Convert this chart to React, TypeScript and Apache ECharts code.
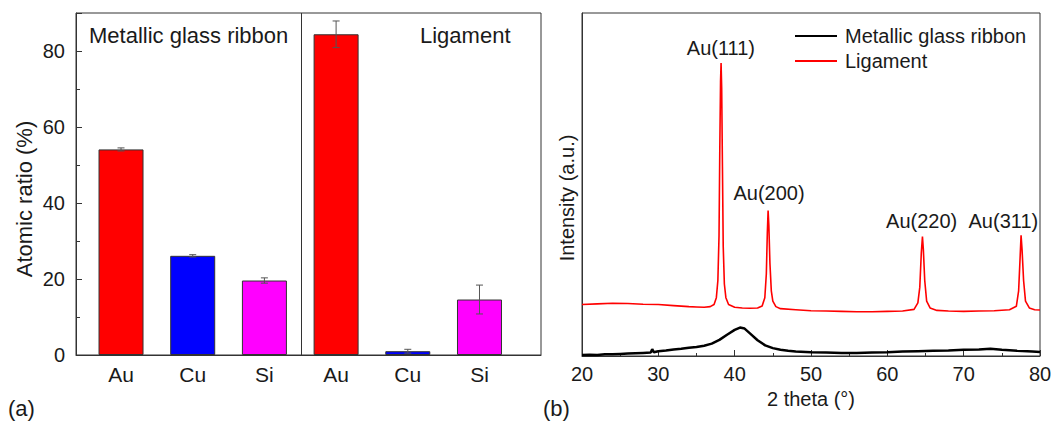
import React, { useEffect, useRef } from "react";
import * as echarts from "echarts";

// ---------- Panel (a): EDS composition ----------
const elementLabels = ["Au", "Cu", "Si", "Au", "Cu", "Si"];
const barPositions = [1, 2, 3, 4, 5, 6];
const atomicRatio = [54.1, 26.1, 19.6, 84.4, 1.0, 14.6];
const atomicError = [0.4, 0.3, 0.7, 3.5, 0.5, 3.8];
const barColors = ["#ff0000", "#0000ff", "#ff00ff", "#ff0000", "#0000ff", "#ff00ff"];
const groupLabels = ["Metallic glass ribbon", "Ligament"];
const groupSeparator = 3.523;
const yTicksA = [0, 20, 40, 60, 80];

// ---------- Panel (b): XRD patterns ----------
const ribbonXRD: [number, number][] = [
  [20, 0.3], [21, 0.4], [22, 0.3], [23, 0.5], [24, 0.5], [25, 0.6], [26, 0.7],
  [27, 0.8], [28, 0.9], [29, 1.0], [29.2, 2.0], [29.4, 1.1], [30, 1.4], [31, 1.6],
  [32, 1.9], [33, 2.1], [34, 2.4], [35, 2.6], [36, 3.0], [37, 3.6], [38, 4.7],
  [39, 6.2], [40, 7.6], [40.7, 8.3], [41.3, 8.0], [42, 6.6], [43, 4.6], [44, 3.1],
  [45, 2.3], [46, 1.8], [47, 1.5], [48, 1.3], [50, 1.1], [52, 1.0], [54, 0.9],
  [56, 0.9], [58, 1.0], [60, 1.1], [62, 1.3], [64, 1.4], [66, 1.5], [68, 1.6],
  [70, 1.8], [72, 1.9], [73.5, 2.1], [75, 1.8], [77, 1.5], [79, 1.3], [80, 1.2],
];
const ligamentXRD: [number, number][] = [
  [20, 15.0], [22, 15.2], [24, 15.4], [26, 15.3], [28, 15.1], [30, 15.0], [32, 14.7],
  [34, 14.4], [35, 14.3], [36, 14.2], [36.8, 14.4], [37.3, 15.0], [37.6, 17],
  [37.8, 22], [37.95, 35], [38.05, 60], [38.15, 80], [38.22, 85.4], [38.3, 78],
  [38.4, 55], [38.5, 32], [38.65, 21], [38.85, 17], [39.2, 15], [40, 14.2],
  [41, 14.0], [42, 13.9], [43, 14.0], [43.6, 14.6], [43.95, 17], [44.15, 24],
  [44.28, 36], [44.38, 42.4], [44.48, 38], [44.62, 27], [44.8, 19], [45.0, 16],
  [45.4, 14.4], [46, 13.8], [48, 13.5], [50, 13.2], [52, 13.1], [54, 13.0],
  [56, 12.9], [58, 12.9], [60, 13.0], [62, 13.1], [63.5, 13.6], [64.0, 15.5],
  [64.25, 20], [64.45, 30], [64.6, 34.8], [64.72, 31], [64.9, 22], [65.15, 16],
  [65.6, 14], [66.5, 13.3], [68, 13.1], [70, 13.0], [72, 13.1], [74, 13.2],
  [76, 13.5], [76.9, 14.5], [77.2, 19], [77.4, 29], [77.52, 35.2], [77.65, 31],
  [77.85, 22], [78.1, 16], [78.6, 14], [79.3, 13.5], [80, 13.4],
];
const peakLabels = ["Au(111)", "Au(200)", "Au(220)", "Au(311)"];
const peakLabelX = [38.2, 44.5, 64.5, 75.2];
const peakLabelY = [89.9, 47.6, 39.4, 39.4];
const seriesNames = ["Metallic glass ribbon", "Ligament"];
const xTicksB = [20, 30, 40, 50, 60, 70, 80];

const FONT = "Liberation Sans, Arial, sans-serif";
const INK = "#1a1a1a";
const AXIS = "#333333";

export default function App() {
  const ref = useRef<HTMLDivElement>(null);

  useEffect(() => {
    if (!ref.current) return;
    const chart = echarts.init(ref.current, undefined, { renderer: "svg" });

    const barData = barPositions.map((x, i) => ({
      value: [x, atomicRatio[i]],
      itemStyle: { color: barColors[i] },
    }));
    const errData = barPositions.map((x, i) => [
      x,
      atomicRatio[i] - atomicError[i],
      atomicRatio[i] + atomicError[i],
    ]);

    const option: any = {
      animation: false,
      backgroundColor: "#ffffff",
      textStyle: { fontFamily: FONT, color: INK },
      grid: [
        { left: 76, top: 13, width: 465, height: 342, show: true, borderColor: AXIS, borderWidth: 1 },
        { left: 582, top: 13, width: 458, height: 343, show: true, borderColor: AXIS, borderWidth: 1 },
      ],
      xAxis: [
        {
          gridIndex: 0,
          type: "value",
          min: 0.372,
          max: 6.858,
          axisLine: { show: true, lineStyle: { color: AXIS } },
          axisTick: { show: false },
          splitLine: { show: false },
          axisLabel: {
            customValues: barPositions,
            formatter: (v: number) => elementLabels[Math.round(v) - 1] ?? "",
            fontSize: 21,
            color: INK,
            margin: 9,
            fontFamily: FONT,
          },
        },
        {
          gridIndex: 1,
          type: "value",
          min: 20,
          max: 80,
          interval: 10,
          name: "2 theta (°)",
          nameLocation: "middle",
          nameGap: 18,
          nameTextStyle: { fontSize: 20, color: INK, fontFamily: FONT },
          axisLine: { show: true, lineStyle: { color: AXIS } },
          axisTick: { show: true, inside: true, length: 6, lineStyle: { color: AXIS } },
          minorTick: { show: true, splitNumber: 2, length: 3, lineStyle: { color: AXIS } },
          splitLine: { show: false },
          axisLabel: {
            fontSize: 20,
            color: INK,
            margin: 8,
            fontFamily: FONT,
            formatter: (v: number) => (xTicksB.includes(v) ? String(v) : ""),
          },
        },
      ],
      yAxis: [
        {
          gridIndex: 0,
          type: "value",
          min: 0,
          max: 90,
          interval: 20,
          axisLine: { show: true, lineStyle: { color: AXIS } },
          axisTick: { show: true, inside: true, length: 6, lineStyle: { color: AXIS } },
          minorTick: { show: true, splitNumber: 2, length: 4, lineStyle: { color: AXIS } },
          splitLine: { show: false },
          axisLabel: {
            fontSize: 20,
            color: INK,
            margin: 11,
            fontFamily: FONT,
            formatter: (v: number) => (yTicksA.includes(v) ? String(v) : ""),
          },
        },
        {
          gridIndex: 1,
          type: "value",
          min: 0,
          max: 100,
          axisLine: { show: true, lineStyle: { color: AXIS } },
          axisTick: { show: false },
          splitLine: { show: false },
          axisLabel: { show: false },
        },
      ],
      legend: {
        data: seriesNames,
        orient: "vertical",
        left: 790,
        top: 21,
        itemWidth: 42,
        itemHeight: 2,
        itemGap: 5,
        icon: "rect",
        textStyle: { fontSize: 20, color: INK, fontFamily: FONT, padding: [0, 0, 0, 3] },
      },
      series: [
        {
          type: "bar",
          xAxisIndex: 0,
          yAxisIndex: 0,
          barWidth: 45,
          data: barData,
          itemStyle: { borderColor: AXIS, borderWidth: 1 },
          markLine: {
            silent: true,
            symbol: "none",
            label: { show: false },
            lineStyle: { color: AXIS, width: 1, type: "solid" },
            data: [{ xAxis: groupSeparator }],
          },
        },
        {
          type: "custom",
          xAxisIndex: 0,
          yAxisIndex: 0,
          z: 5,
          data: errData,
          encode: { x: 0, y: [1, 2] },
          renderItem: (_p: any, api: any) => {
            const x = api.value(0);
            const lo = api.coord([x, api.value(1)]);
            const hi = api.coord([x, api.value(2)]);
            const w = 3.5;
            const st = { stroke: "#555555", lineWidth: 1 };
            return {
              type: "group",
              children: [
                { type: "line", shape: { x1: lo[0], y1: lo[1], x2: hi[0], y2: hi[1] }, style: st },
                { type: "line", shape: { x1: lo[0] - w, y1: lo[1], x2: lo[0] + w, y2: lo[1] }, style: st },
                { type: "line", shape: { x1: hi[0] - w, y1: hi[1], x2: hi[0] + w, y2: hi[1] }, style: st },
              ],
            };
          },
        },
        {
          name: seriesNames[0],
          type: "line",
          xAxisIndex: 1,
          yAxisIndex: 1,
          data: ribbonXRD,
          showSymbol: false,
          symbol: "none",
          color: "#000000",
          lineStyle: { color: "#000000", width: 2.5 },
        },
        {
          name: seriesNames[1],
          type: "line",
          xAxisIndex: 1,
          yAxisIndex: 1,
          data: ligamentXRD,
          showSymbol: false,
          symbol: "none",
          color: "#ff0000",
          lineStyle: { color: "#ff0000", width: 1.6 },
          markPoint: {
            symbol: "circle",
            symbolSize: 0,
            silent: true,
            label: {
              show: true,
              position: "inside",
              fontSize: 20,
              color: INK,
              fontFamily: FONT,
              formatter: (p: any) => p.name,
            },
            data: peakLabels.map((name, i) => ({ name, coord: [peakLabelX[i], peakLabelY[i]] })),
          },
        },
      ],
      graphic: [
        {
          type: "text",
          x: 89,
          y: 35,
          style: { text: groupLabels[0], fontSize: 22, fill: INK, fontFamily: FONT, verticalAlign: "middle" },
        },
        {
          type: "text",
          x: 420,
          y: 35,
          style: { text: groupLabels[1], fontSize: 22, fill: INK, fontFamily: FONT, verticalAlign: "middle" },
        },
        {
          type: "text",
          x: 24,
          y: 199,
          rotation: Math.PI / 2,
          style: { text: "Atomic ratio (%)", fontSize: 22, fill: INK, fontFamily: FONT, align: "center", verticalAlign: "middle" },
        },
        {
          type: "text",
          x: 567,
          y: 198,
          rotation: Math.PI / 2,
          style: { text: "Intensity (a.u.)", fontSize: 20, fill: INK, fontFamily: FONT, align: "center", verticalAlign: "middle" },
        },
        {
          type: "text",
          x: 8,
          y: 408,
          style: { text: "(a)", fontSize: 22, fill: INK, fontFamily: FONT, verticalAlign: "middle" },
        },
        {
          type: "text",
          x: 543,
          y: 408,
          style: { text: "(b)", fontSize: 22, fill: INK, fontFamily: FONT, verticalAlign: "middle" },
        },
      ],
    };

    chart.setOption(option);
    return () => chart.dispose();
  }, []);

  return (
    <div
      ref={ref}
      style={{ position: "fixed", left: 0, top: 0, width: 1062, height: 422, background: "#fff" }}
    />
  );
}
